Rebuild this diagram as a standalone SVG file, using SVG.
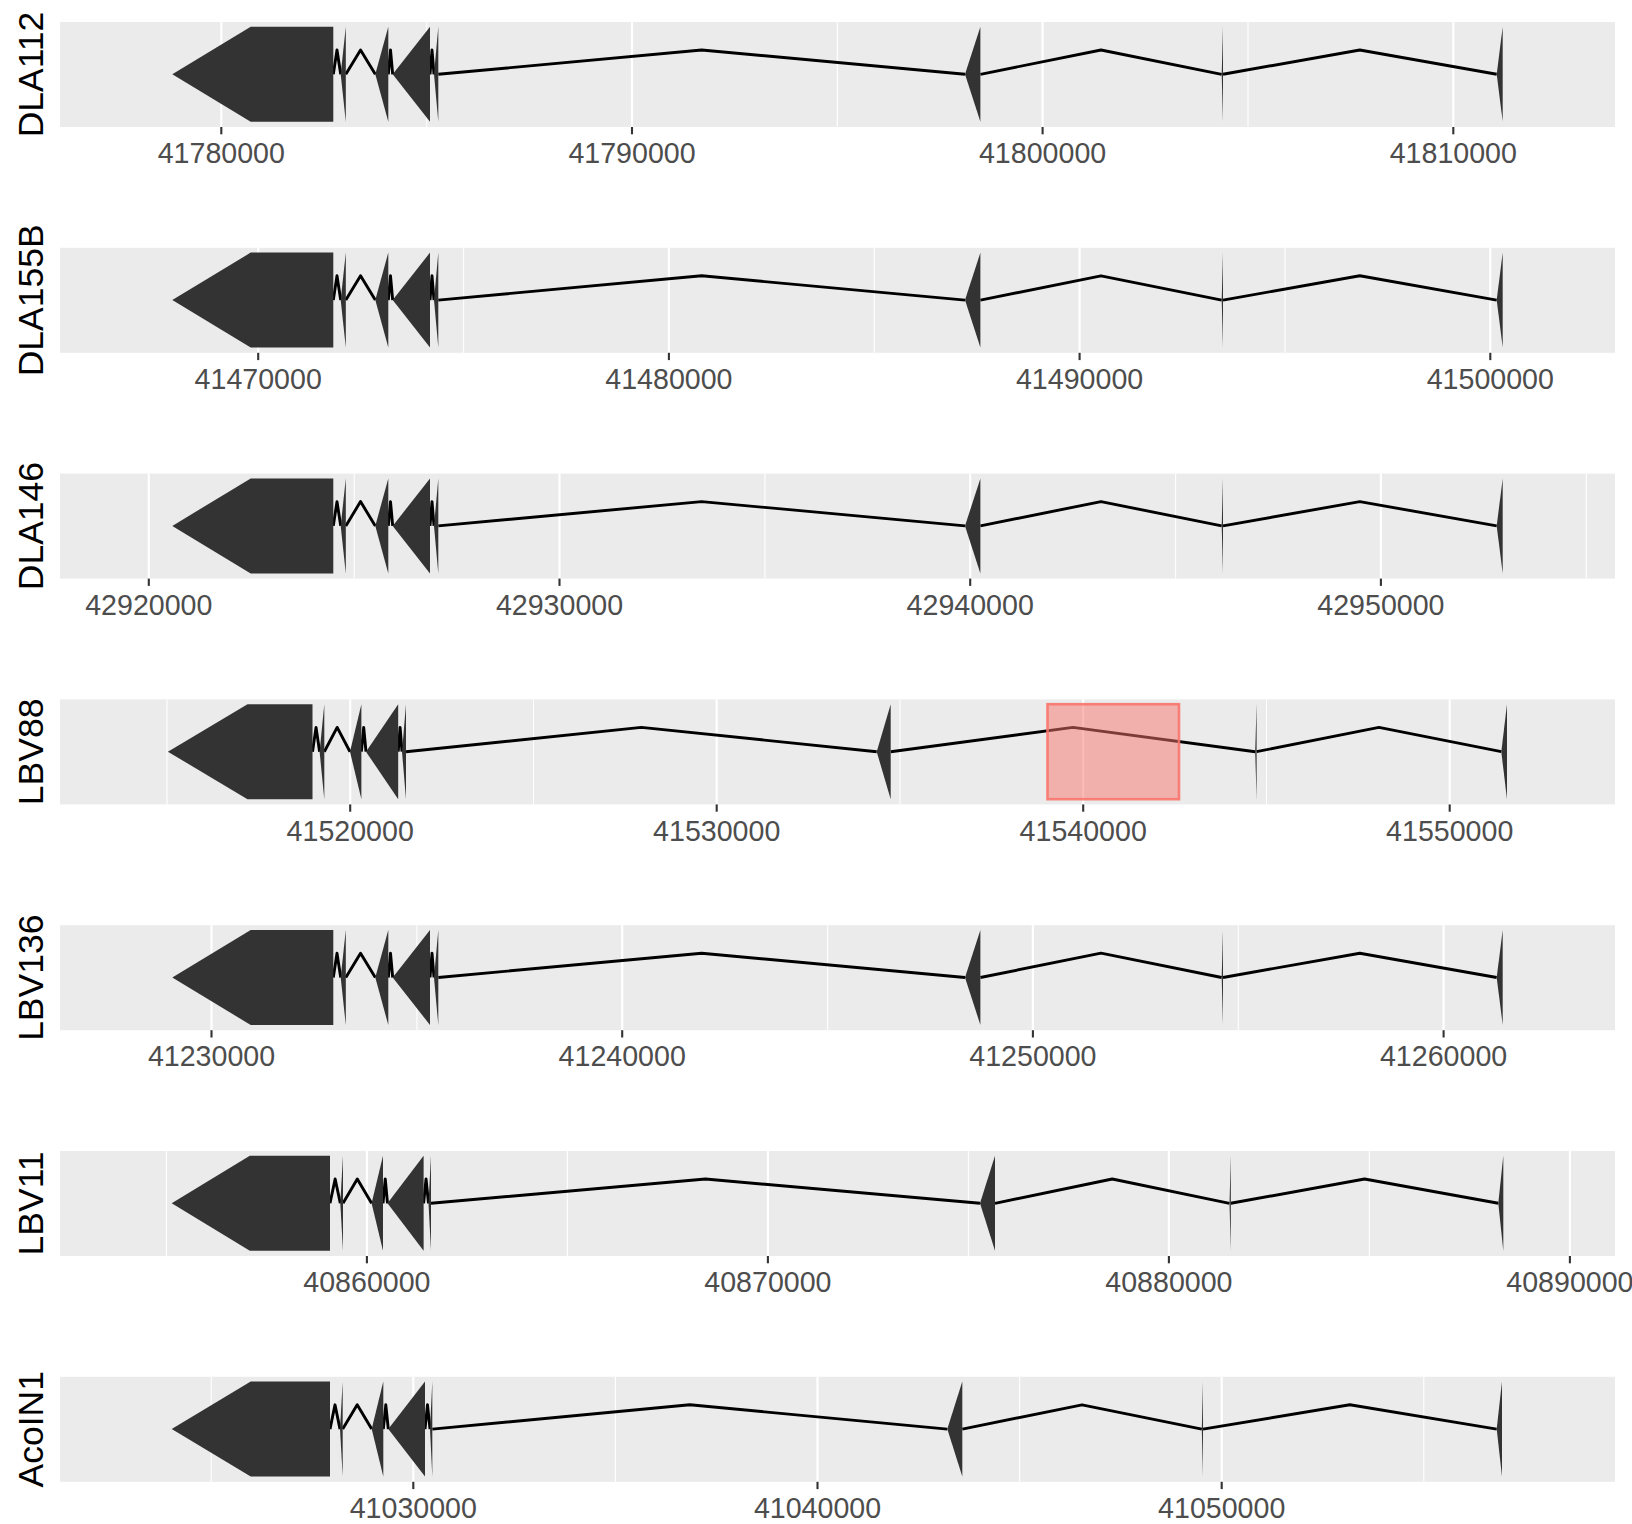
<svg xmlns="http://www.w3.org/2000/svg" width="1632" height="1524" viewBox="0 0 1632 1524">
<style>
.bg{fill:#EBEBEB}
.gmaj{stroke:#FFFFFF;stroke-width:2.2}
.gmin{stroke:#FFFFFF;stroke-width:1.1}
.ex{fill:#333333}
.intr{fill:none;stroke:#000000;stroke-width:2.9;stroke-linejoin:round}
.tick{stroke:#333333;stroke-width:2.1}
.tl{font-family:"Liberation Sans",Arial,sans-serif;font-size:28.6px;fill:#4D4D4D;text-anchor:middle}
.yl{font-family:"Liberation Sans",Arial,sans-serif;font-size:35.5px;fill:#000000;text-anchor:middle}
.hl{fill:#F8766D;fill-opacity:0.5;stroke:#F8766D;stroke-opacity:0.9;stroke-width:2.6}
</style>
<rect x="0" y="0" width="1632" height="1524" fill="#FFFFFF"/>

<!-- Panel 1 DLA112 -->
<g id="panel-DLA112" transform="translate(0,22)">
<rect class="bg" x="60" y="0" width="1555" height="105"/>
<g><line class="gmin" x1="426.7" y1="0" x2="426.7" y2="105"/><line class="gmin" x1="837.3" y1="0" x2="837.3" y2="105"/><line class="gmin" x1="1248" y1="0" x2="1248" y2="105"/>
<line class="gmaj" x1="221.3" y1="0" x2="221.3" y2="105"/><line class="gmaj" x1="632" y1="0" x2="632" y2="105"/><line class="gmaj" x1="1042.6" y1="0" x2="1042.6" y2="105"/><line class="gmaj" x1="1453.3" y1="0" x2="1453.3" y2="105"/></g>
<g id="introns-DLA112">
<polyline class="intr" points="333.3,52.3 337,28 340.7,52.3"/>
<polyline class="intr" points="345.8,52.3 360.55,28 375.3,52.3"/>
<polyline class="intr" points="388.3,52.3 390.5,28 392.7,52.3"/>
<polyline class="intr" points="430,52.3 432,28 434,52.3"/>
<polyline class="intr" points="438.3,52.3 701.65,28 965,52.3"/>
<polyline class="intr" points="980.4,52.3 1101,28 1221.7,52.3"/>
<polyline class="intr" points="1223,52.3 1359.8,28 1496.7,52.3"/>
</g>
<g id="exons-DLA112">
<polygon class="ex" points="333.3,4.8 250.7,4.8 172.3,52.3 250.7,99.8 333.3,99.8"/>
<polygon class="ex" points="345.8,4.8 340.7,52.3 345.8,99.8"/>
<polygon class="ex" points="388.3,4.8 375.3,52.3 388.3,99.8"/>
<polygon class="ex" points="430,4.8 392.7,52.3 430,99.8"/>
<polygon class="ex" points="438.3,4.8 434,52.3 438.3,99.8"/>
<polygon class="ex" points="980.4,4.8 965,52.3 980.4,99.8"/>
<polygon class="ex" points="1223,4.8 1221.7,52.3 1223,99.8"/>
<polygon class="ex" points="1502.7,4.8 1496.7,52.3 1502.7,99.8"/>
</g>
<line class="tick" x1="221.3" y1="105" x2="221.3" y2="112.3"/><line class="tick" x1="632" y1="105" x2="632" y2="112.3"/><line class="tick" x1="1042.6" y1="105" x2="1042.6" y2="112.3"/><line class="tick" x1="1453.3" y1="105" x2="1453.3" y2="112.3"/>
<text class="tl" x="221.3" y="141.3">41780000</text><text class="tl" x="632" y="141.3">41790000</text><text class="tl" x="1042.6" y="141.3">41800000</text><text class="tl" x="1453.3" y="141.3">41810000</text>
<text class="yl" transform="translate(43.3,52.5) rotate(-90)">DLA112</text>
</g>

<!-- Panel 2 DLA155B -->
<g id="panel-DLA155B" transform="translate(0,247.8)">
<rect class="bg" x="60" y="0" width="1555" height="105"/>
<g><line class="gmin" x1="463.6" y1="0" x2="463.6" y2="105"/><line class="gmin" x1="874.3" y1="0" x2="874.3" y2="105"/><line class="gmin" x1="1285" y1="0" x2="1285" y2="105"/>
<line class="gmaj" x1="258.2" y1="0" x2="258.2" y2="105"/><line class="gmaj" x1="668.9" y1="0" x2="668.9" y2="105"/><line class="gmaj" x1="1079.6" y1="0" x2="1079.6" y2="105"/><line class="gmaj" x1="1490.3" y1="0" x2="1490.3" y2="105"/></g>
<g id="introns-DLA155B">
<polyline class="intr" points="333.3,52.3 337,28 340.7,52.3"/>
<polyline class="intr" points="345.8,52.3 360.55,28 375.3,52.3"/>
<polyline class="intr" points="388.3,52.3 390.5,28 392.7,52.3"/>
<polyline class="intr" points="430,52.3 432,28 434,52.3"/>
<polyline class="intr" points="438.3,52.3 701.65,28 965,52.3"/>
<polyline class="intr" points="980.4,52.3 1101,28 1221.7,52.3"/>
<polyline class="intr" points="1223,52.3 1359.8,28 1496.7,52.3"/>
</g>
<g id="exons-DLA155B">
<polygon class="ex" points="333.3,4.8 250.7,4.8 172.3,52.3 250.7,99.8 333.3,99.8"/>
<polygon class="ex" points="345.8,4.8 340.7,52.3 345.8,99.8"/>
<polygon class="ex" points="388.3,4.8 375.3,52.3 388.3,99.8"/>
<polygon class="ex" points="430,4.8 392.7,52.3 430,99.8"/>
<polygon class="ex" points="438.3,4.8 434,52.3 438.3,99.8"/>
<polygon class="ex" points="980.4,4.8 965,52.3 980.4,99.8"/>
<polygon class="ex" points="1223,4.8 1221.7,52.3 1223,99.8"/>
<polygon class="ex" points="1502.7,4.8 1496.7,52.3 1502.7,99.8"/>
</g>
<line class="tick" x1="258.2" y1="105" x2="258.2" y2="112.3"/><line class="tick" x1="668.9" y1="105" x2="668.9" y2="112.3"/><line class="tick" x1="1079.6" y1="105" x2="1079.6" y2="112.3"/><line class="tick" x1="1490.3" y1="105" x2="1490.3" y2="112.3"/>
<text class="tl" x="258.2" y="141.3">41470000</text><text class="tl" x="668.9" y="141.3">41480000</text><text class="tl" x="1079.6" y="141.3">41490000</text><text class="tl" x="1490.3" y="141.3">41500000</text>
<text class="yl" transform="translate(43.3,52.5) rotate(-90)">DLA155B</text>
</g>

<!-- Panel 3 DLA146 -->
<g id="panel-DLA146" transform="translate(0,473.6)">
<rect class="bg" x="60" y="0" width="1555" height="105"/>
<g><line class="gmin" x1="354.2" y1="0" x2="354.2" y2="105"/><line class="gmin" x1="764.9" y1="0" x2="764.9" y2="105"/><line class="gmin" x1="1175.6" y1="0" x2="1175.6" y2="105"/><line class="gmin" x1="1586.3" y1="0" x2="1586.3" y2="105"/>
<line class="gmaj" x1="148.8" y1="0" x2="148.8" y2="105"/><line class="gmaj" x1="559.5" y1="0" x2="559.5" y2="105"/><line class="gmaj" x1="970.2" y1="0" x2="970.2" y2="105"/><line class="gmaj" x1="1380.9" y1="0" x2="1380.9" y2="105"/></g>
<g id="introns-DLA146">
<polyline class="intr" points="333.3,52.3 337,28 340.7,52.3"/>
<polyline class="intr" points="345.8,52.3 360.55,28 375.3,52.3"/>
<polyline class="intr" points="388.3,52.3 390.5,28 392.7,52.3"/>
<polyline class="intr" points="430,52.3 432,28 434,52.3"/>
<polyline class="intr" points="438.3,52.3 701.65,28 965,52.3"/>
<polyline class="intr" points="980.4,52.3 1101,28 1221.7,52.3"/>
<polyline class="intr" points="1223,52.3 1359.8,28 1496.7,52.3"/>
</g>
<g id="exons-DLA146">
<polygon class="ex" points="333.3,4.8 250.7,4.8 172.3,52.3 250.7,99.8 333.3,99.8"/>
<polygon class="ex" points="345.8,4.8 340.7,52.3 345.8,99.8"/>
<polygon class="ex" points="388.3,4.8 375.3,52.3 388.3,99.8"/>
<polygon class="ex" points="430,4.8 392.7,52.3 430,99.8"/>
<polygon class="ex" points="438.3,4.8 434,52.3 438.3,99.8"/>
<polygon class="ex" points="980.4,4.8 965,52.3 980.4,99.8"/>
<polygon class="ex" points="1223,4.8 1221.7,52.3 1223,99.8"/>
<polygon class="ex" points="1502.7,4.8 1496.7,52.3 1502.7,99.8"/>
</g>
<line class="tick" x1="148.8" y1="105" x2="148.8" y2="112.3"/><line class="tick" x1="559.5" y1="105" x2="559.5" y2="112.3"/><line class="tick" x1="970.2" y1="105" x2="970.2" y2="112.3"/><line class="tick" x1="1380.9" y1="105" x2="1380.9" y2="112.3"/>
<text class="tl" x="148.8" y="141.3">42920000</text><text class="tl" x="559.5" y="141.3">42930000</text><text class="tl" x="970.2" y="141.3">42940000</text><text class="tl" x="1380.9" y="141.3">42950000</text>
<text class="yl" transform="translate(43.3,52.5) rotate(-90)">DLA146</text>
</g>

<!-- Panel 4 LBV88 -->
<g id="panel-LBV88" transform="translate(0,699.4)">
<rect class="bg" x="60" y="0" width="1555" height="105"/>
<g><line class="gmin" x1="167" y1="0" x2="167" y2="105"/><line class="gmin" x1="533.5" y1="0" x2="533.5" y2="105"/><line class="gmin" x1="900" y1="0" x2="900" y2="105"/><line class="gmin" x1="1266.5" y1="0" x2="1266.5" y2="105"/>
<line class="gmaj" x1="350.2" y1="0" x2="350.2" y2="105"/><line class="gmaj" x1="716.7" y1="0" x2="716.7" y2="105"/><line class="gmaj" x1="1083.2" y1="0" x2="1083.2" y2="105"/><line class="gmaj" x1="1449.7" y1="0" x2="1449.7" y2="105"/></g>
<g id="introns-LBV88">
<polyline class="intr" points="312.5,52.3 316.05,28 319.6,52.3"/>
<polyline class="intr" points="324.3,52.3 337.15,28 350,52.3"/>
<polyline class="intr" points="361.4,52.3 363.7,28 366,52.3"/>
<polyline class="intr" points="398.2,52.3 400.1,28 402,52.3"/>
<polyline class="intr" points="406,52.3 641.35,28 876.7,52.3"/>
<polyline class="intr" points="890.7,52.3 1072.95,28 1255.2,52.3"/>
<polyline class="intr" points="1256.6,52.3 1378.95,28 1501.3,52.3"/>
</g>
<g id="exons-LBV88">
<polygon class="ex" points="312.5,4.8 247.5,4.8 167.9,52.3 247.5,99.8 312.5,99.8"/>
<polygon class="ex" points="324.3,4.8 319.6,52.3 324.3,99.8"/>
<polygon class="ex" points="361.4,4.8 350,52.3 361.4,99.8"/>
<polygon class="ex" points="398.2,4.8 366,52.3 398.2,99.8"/>
<polygon class="ex" points="406,4.8 402,52.3 406,99.8"/>
<polygon class="ex" points="890.7,4.8 876.7,52.3 890.7,99.8"/>
<polygon class="ex" points="1256.6,4.8 1255.2,52.3 1256.6,99.8"/>
<polygon class="ex" points="1507,4.8 1501.3,52.3 1507,99.8"/>
</g>
<rect id="highlight-LBV88" class="hl" x="1047.5" y="4.8" width="131.5" height="95"/>
<line class="tick" x1="350.2" y1="105" x2="350.2" y2="112.3"/><line class="tick" x1="716.7" y1="105" x2="716.7" y2="112.3"/><line class="tick" x1="1083.2" y1="105" x2="1083.2" y2="112.3"/><line class="tick" x1="1449.7" y1="105" x2="1449.7" y2="112.3"/>
<text class="tl" x="350.2" y="141.3">41520000</text><text class="tl" x="716.7" y="141.3">41530000</text><text class="tl" x="1083.2" y="141.3">41540000</text><text class="tl" x="1449.7" y="141.3">41550000</text>
<text class="yl" transform="translate(43.3,52.5) rotate(-90)">LBV88</text>
</g>

<!-- Panel 5 LBV136 -->
<g id="panel-LBV136" transform="translate(0,925.2)">
<rect class="bg" x="60" y="0" width="1555" height="105"/>
<g><line class="gmin" x1="416.9" y1="0" x2="416.9" y2="105"/><line class="gmin" x1="827.6" y1="0" x2="827.6" y2="105"/><line class="gmin" x1="1238.3" y1="0" x2="1238.3" y2="105"/>
<line class="gmaj" x1="211.5" y1="0" x2="211.5" y2="105"/><line class="gmaj" x1="622.2" y1="0" x2="622.2" y2="105"/><line class="gmaj" x1="1032.9" y1="0" x2="1032.9" y2="105"/><line class="gmaj" x1="1443.6" y1="0" x2="1443.6" y2="105"/></g>
<g id="introns-LBV136">
<polyline class="intr" points="333.3,52.3 337,28 340.7,52.3"/>
<polyline class="intr" points="345.8,52.3 360.55,28 375.3,52.3"/>
<polyline class="intr" points="388.3,52.3 390.5,28 392.7,52.3"/>
<polyline class="intr" points="430,52.3 432,28 434,52.3"/>
<polyline class="intr" points="438.3,52.3 701.65,28 965,52.3"/>
<polyline class="intr" points="980.4,52.3 1101,28 1221.7,52.3"/>
<polyline class="intr" points="1223,52.3 1359.8,28 1496.7,52.3"/>
</g>
<g id="exons-LBV136">
<polygon class="ex" points="333.3,4.8 250.7,4.8 172.3,52.3 250.7,99.8 333.3,99.8"/>
<polygon class="ex" points="345.8,4.8 340.7,52.3 345.8,99.8"/>
<polygon class="ex" points="388.3,4.8 375.3,52.3 388.3,99.8"/>
<polygon class="ex" points="430,4.8 392.7,52.3 430,99.8"/>
<polygon class="ex" points="438.3,4.8 434,52.3 438.3,99.8"/>
<polygon class="ex" points="980.4,4.8 965,52.3 980.4,99.8"/>
<polygon class="ex" points="1223,4.8 1221.7,52.3 1223,99.8"/>
<polygon class="ex" points="1502.7,4.8 1496.7,52.3 1502.7,99.8"/>
</g>
<line class="tick" x1="211.5" y1="105" x2="211.5" y2="112.3"/><line class="tick" x1="622.2" y1="105" x2="622.2" y2="112.3"/><line class="tick" x1="1032.9" y1="105" x2="1032.9" y2="112.3"/><line class="tick" x1="1443.6" y1="105" x2="1443.6" y2="112.3"/>
<text class="tl" x="211.5" y="141.3">41230000</text><text class="tl" x="622.2" y="141.3">41240000</text><text class="tl" x="1032.9" y="141.3">41250000</text><text class="tl" x="1443.6" y="141.3">41260000</text>
<text class="yl" transform="translate(43.3,52.5) rotate(-90)">LBV136</text>
</g>

<!-- Panel 6 LBV11 -->
<g id="panel-LBV11" transform="translate(0,1151)">
<rect class="bg" x="60" y="0" width="1555" height="105"/>
<g><line class="gmin" x1="166.4" y1="0" x2="166.4" y2="105"/><line class="gmin" x1="567.4" y1="0" x2="567.4" y2="105"/><line class="gmin" x1="968.4" y1="0" x2="968.4" y2="105"/><line class="gmin" x1="1369.4" y1="0" x2="1369.4" y2="105"/>
<line class="gmaj" x1="366.9" y1="0" x2="366.9" y2="105"/><line class="gmaj" x1="767.9" y1="0" x2="767.9" y2="105"/><line class="gmaj" x1="1168.9" y1="0" x2="1168.9" y2="105"/><line class="gmaj" x1="1569.9" y1="0" x2="1569.9" y2="105"/></g>
<g id="introns-LBV11">
<polyline class="intr" points="330,52.3 335.15,28 340.3,52.3"/>
<polyline class="intr" points="343,52.3 357.3,28 371.6,52.3"/>
<polyline class="intr" points="383,52.3 385.25,28 387.5,52.3"/>
<polyline class="intr" points="423.6,52.3 426.05,28 428.5,52.3"/>
<polyline class="intr" points="431,52.3 705.5,28 980,52.3"/>
<polyline class="intr" points="995,52.3 1112.25,28 1229.5,52.3"/>
<polyline class="intr" points="1230.8,52.3 1364.55,28 1498.3,52.3"/>
</g>
<g id="exons-LBV11">
<polygon class="ex" points="330,4.8 249.8,4.8 171.7,52.3 249.8,99.8 330,99.8"/>
<polygon class="ex" points="343,4.8 340.3,52.3 343,99.8"/>
<polygon class="ex" points="383,4.8 371.6,52.3 383,99.8"/>
<polygon class="ex" points="423.6,4.8 387.5,52.3 423.6,99.8"/>
<polygon class="ex" points="431,4.8 428.5,52.3 431,99.8"/>
<polygon class="ex" points="995,4.8 980,52.3 995,99.8"/>
<polygon class="ex" points="1230.8,4.8 1229.5,52.3 1230.8,99.8"/>
<polygon class="ex" points="1503.3,4.8 1498.3,52.3 1503.3,99.8"/>
</g>
<line class="tick" x1="366.9" y1="105" x2="366.9" y2="112.3"/><line class="tick" x1="767.9" y1="105" x2="767.9" y2="112.3"/><line class="tick" x1="1168.9" y1="105" x2="1168.9" y2="112.3"/><line class="tick" x1="1569.9" y1="105" x2="1569.9" y2="112.3"/>
<text class="tl" x="366.9" y="141.3">40860000</text><text class="tl" x="767.9" y="141.3">40870000</text><text class="tl" x="1168.9" y="141.3">40880000</text><text class="tl" x="1569.9" y="141.3">40890000</text>
<text class="yl" transform="translate(43.3,52.5) rotate(-90)">LBV11</text>
</g>

<!-- Panel 7 AcoIN1 -->
<g id="panel-AcoIN1" transform="translate(0,1376.8)">
<rect class="bg" x="60" y="0" width="1555" height="105"/>
<g><line class="gmin" x1="211.2" y1="0" x2="211.2" y2="105"/><line class="gmin" x1="615.4" y1="0" x2="615.4" y2="105"/><line class="gmin" x1="1019.6" y1="0" x2="1019.6" y2="105"/><line class="gmin" x1="1423.8" y1="0" x2="1423.8" y2="105"/>
<line class="gmaj" x1="413.3" y1="0" x2="413.3" y2="105"/><line class="gmaj" x1="817.5" y1="0" x2="817.5" y2="105"/><line class="gmaj" x1="1221.7" y1="0" x2="1221.7" y2="105"/></g>
<g id="introns-AcoIN1">
<polyline class="intr" points="330,52.3 335,28 340,52.3"/>
<polyline class="intr" points="342.7,52.3 357.2,28 371.7,52.3"/>
<polyline class="intr" points="383.3,52.3 385.8,28 388.3,52.3"/>
<polyline class="intr" points="425,52.3 427.5,28 430,52.3"/>
<polyline class="intr" points="432.3,52.3 689.8,28 947.3,52.3"/>
<polyline class="intr" points="962.3,52.3 1082.05,28 1201.8,52.3"/>
<polyline class="intr" points="1203,52.3 1349.85,28 1496.7,52.3"/>
</g>
<g id="exons-AcoIN1">
<polygon class="ex" points="330,4.8 250.7,4.8 171.7,52.3 250.7,99.8 330,99.8"/>
<polygon class="ex" points="342.7,4.8 340,52.3 342.7,99.8"/>
<polygon class="ex" points="383.3,4.8 371.7,52.3 383.3,99.8"/>
<polygon class="ex" points="425,4.8 388.3,52.3 425,99.8"/>
<polygon class="ex" points="432.3,4.8 430,52.3 432.3,99.8"/>
<polygon class="ex" points="962.3,4.8 947.3,52.3 962.3,99.8"/>
<polygon class="ex" points="1203,4.8 1201.8,52.3 1203,99.8"/>
<polygon class="ex" points="1502,4.8 1496.7,52.3 1502,99.8"/>
</g>
<line class="tick" x1="413.3" y1="105" x2="413.3" y2="112.3"/><line class="tick" x1="817.5" y1="105" x2="817.5" y2="112.3"/><line class="tick" x1="1221.7" y1="105" x2="1221.7" y2="112.3"/>
<text class="tl" x="413.3" y="141.3">41030000</text><text class="tl" x="817.5" y="141.3">41040000</text><text class="tl" x="1221.7" y="141.3">41050000</text>
<text class="yl" transform="translate(43.3,52.5) rotate(-90)">AcoIN1</text>
</g>
</svg>
